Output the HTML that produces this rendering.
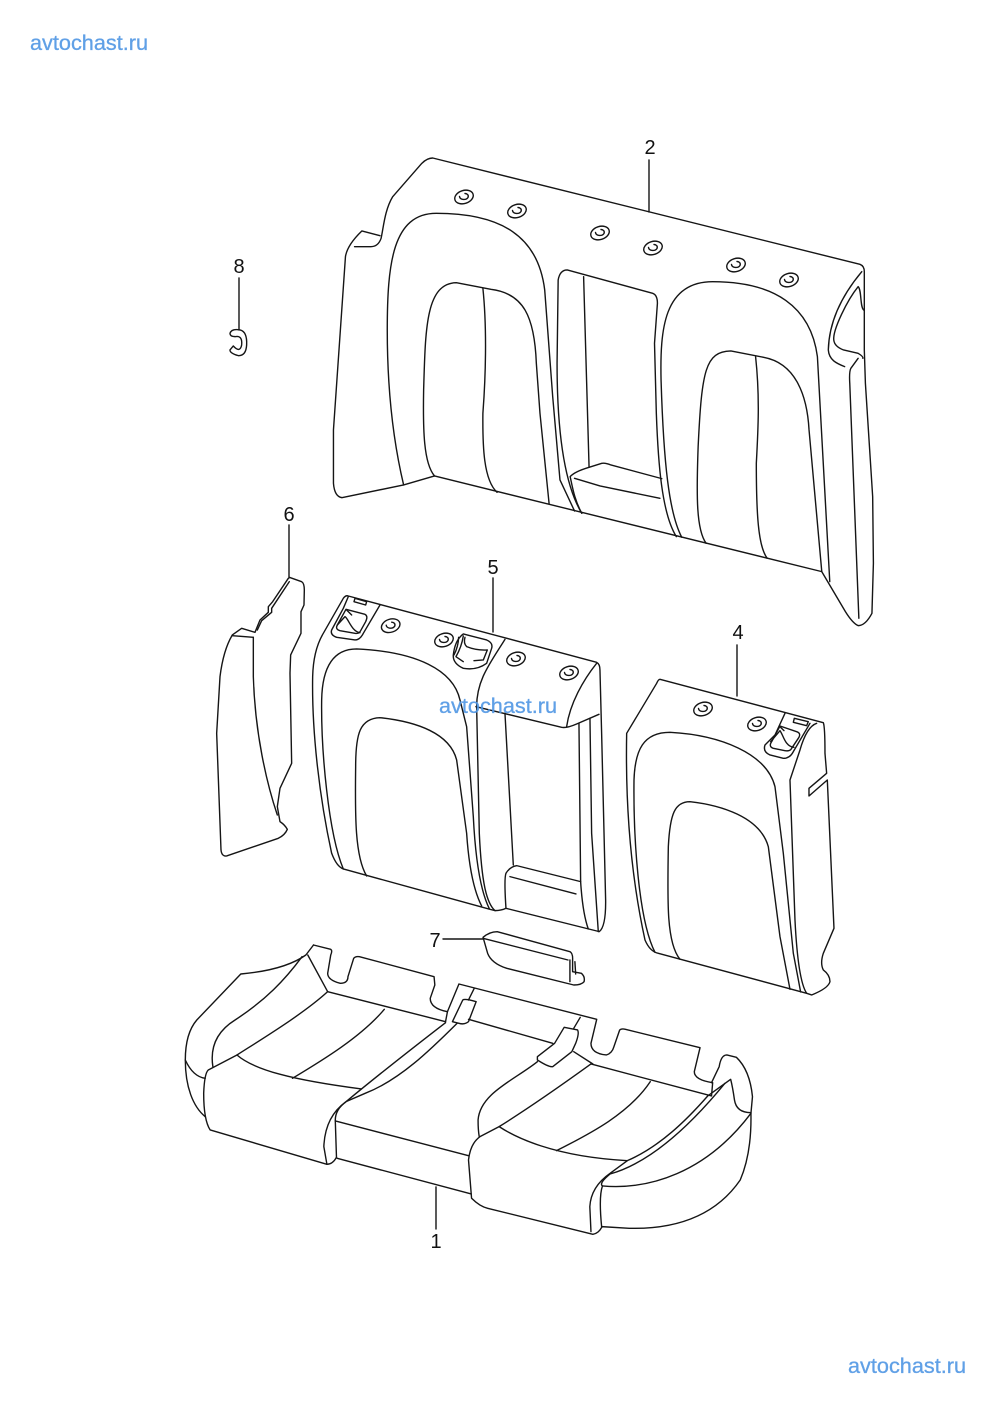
<!DOCTYPE html>
<html><head><meta charset="utf-8"><style>
html,body{margin:0;padding:0;background:#fff}
svg{display:block}
path,ellipse,line{fill:none;stroke:#151515;stroke-width:1.4;vector-effect:non-scaling-stroke;stroke-linecap:round;stroke-linejoin:round}
.n{font-family:"Liberation Sans",sans-serif;font-size:20px;fill:#111;text-anchor:middle}
.w{font-family:"Liberation Sans",sans-serif;font-size:21px;fill:#4f96e4;stroke:#4f96e4;stroke-width:.3;opacity:.9}
</style></head><body>
<svg width="996" height="1409" viewBox="0 0 996 1409" xmlns="http://www.w3.org/2000/svg">
<defs><g id="s"><ellipse cx="0" cy="0" rx="9.5" ry="6.5" transform="rotate(-18)"/><path d="M-4.5 -.5C-4 3 2 3.5 4 .5C5 -2 3 -3.5 1 -3.5"/></g></defs>

<!-- part 2 -->
<g transform="translate(320,130) scale(.3636,.3333)">
<path d="M95 350L140 350Q160 350 168 325C175 290 178 240 200 200L280 100Q295 84 310 84L1485 403Q1497 408 1497 425L1497 660L1500 760L1520 1100L1522 1300L1518 1450Q1500 1487 1480 1487Q1465 1480 1445 1445L1380 1325L315 1038L230 1065L60 1103Q40 1100 37 1060L37 900L70 380Q75 345 115 303L165 317"/>
<path d="M230 1065C205 950 185 800 185 600C185 400 200 250 320 250C500 250 600 320 618 480L640 800L660 1050L700 1143"/>
<path d="M315 1038C285 1000 283 900 285 780C290 600 290 460 375 458L470 478C560 490 590 560 595 700L605 850L630 1120"/>
<path d="M720 1150C670 1060 652 900 652 700L655 450Q660 420 680 420L915 490Q928 495 928 520L920 640L925 850C930 1000 940 1150 980 1220"/>
<path d="M995 1222C960 1150 945 1000 938 750C935 600 945 455 1080 455C1250 455 1350 530 1368 680L1402 1355"/>
<path d="M1062 1240C1035 1200 1035 1100 1040 950C1050 720 1060 665 1130 663L1220 682C1310 700 1340 800 1345 900L1380 1325"/>
<path d="M448 475C460 600 455 750 448 850C447 950 450 1050 487 1087"/>
<path d="M1198 680C1210 800 1205 900 1200 1000C1200 1150 1205 1250 1230 1285"/>
<path d="M725 440L740 1012"/>
<path d="M720 1150C700 1110 695 1075 688 1040Q700 1025 740 1012L775 1000Q785 998 800 1005L940 1046"/>
<path d="M700 1045L770 1068L935 1105"/>
<path d="M1490 425C1440 490 1400 570 1398 660C1400 690 1420 700 1443 710"/>
<path d="M1495 540C1485 530 1490 480 1480 470C1450 510 1410 600 1413 630Q1415 650 1440 660L1480 670Q1495 680 1493 685"/>
<path d="M1480 685L1460 715Q1455 725 1457 760L1482 1465"/>
</g>
<use href="#s" x="464" y="197"/><use href="#s" x="517" y="211"/><use href="#s" x="600" y="233"/><use href="#s" x="653" y="248"/><use href="#s" x="736" y="265"/><use href="#s" x="789" y="280"/>

<!-- part 5 and 6 -->
<g transform="translate(200,500) scale(.3333)">
<path d="M445 288L1190 487Q1200 492 1200 510L1205 700L1217 1200Q1218 1280 1198 1295L918 1225Q905 1232 885 1232L870 1228L430 1107Q410 1100 395 1060C360 900 335 700 338 530Q340 450 370 400L430 295Q437 285 445 288Z"/>
<path d="M430 1107C385 1000 363 750 365 600C367 500 400 447 470 447C650 455 760 510 780 600L800 680L820 950Q830 1150 868 1226"/>
<path d="M500 1128C465 1070 465 950 467 800C467 700 480 655 540 653C650 665 750 700 770 780L800 1000Q810 1150 845 1218"/>
<path d="M915 418C870 490 830 540 830 620L838 1000C845 1150 860 1210 885 1232"/>
<path d="M1190 490C1150 540 1110 610 1100 680"/>
<path d="M828 620L1085 682Q1100 685 1130 672L1197 643"/>
<path d="M915 640L940 1095"/><path d="M1137 670L1142 1145Q1148 1240 1165 1287"/>
<path d="M1170 655L1175 1000L1195 1295"/>
<path d="M1142 1145L950 1097Q930 1100 918 1120Q912 1135 918 1225"/>
<path d="M930 1130L1128 1182"/>
<path d="M540 315L490 400Q480 420 465 420L410 412Q390 405 395 390L430 325L445 290"/>
<path d="M438 328L495 343Q505 348 497 365L482 392Q478 402 465 400L420 392Q405 388 412 375Z"/>
<path d="M412 375L435 350C445 355 455 395 480 398"/><path d="M440 330L455 345"/>
<path d="M465 295L500 305L497 315L462 305Z"/>
<path d="M760 465Q765 420 790 402L860 420Q880 428 875 445L860 490Q830 512 790 505Q758 490 760 465Z"/>
<path d="M790 408Q785 440 768 470L790 485"/><path d="M776 412Q775 440 762 465"/>
<path d="M795 412Q790 430 800 440Q830 452 862 450L850 480L822 482"/>
<!-- 6 -->
<path d="M268 232L305 245Q313 250 313 270L312 315L303 335L303 400L272 465L270 520L275 790L240 865L232 920L240 965Q255 975 262 988Q255 1005 235 1015L80 1068Q65 1070 63 1050L50 700L60 530Q70 450 97 405L125 385L165 397L180 360L205 337L205 320L218 305L265 235"/>
<path d="M160 412L97 407"/><path d="M160 412L160 530C165 700 200 850 232 945"/>
<path d="M172 390L185 362L215 337L215 325L268 245"/>
</g>
<use href="#s" x="390.7" y="625.7"/><use href="#s" x="444" y="640"/><use href="#s" x="516" y="659"/><use href="#s" x="569" y="673"/>

<!-- part 4 -->
<g transform="translate(610,620) scale(.3333)">
<path d="M150 178L640 308Q645 320 645 400L650 460L597 505L597 528L652 480L672 925L640 1000Q630 1030 640 1050Q660 1065 660 1085Q655 1105 605 1125L590 1120L145 1000Q120 995 105 960C70 800 45 600 50 340L140 190Q145 178 150 178Z"/>
<path d="M135 997C85 900 70 650 72 480C75 390 100 337 180 337C330 345 470 400 495 500L520 700L550 1000L572 1116"/>
<path d="M210 1018C170 970 172 850 175 680C180 580 195 545 240 545C330 555 450 590 475 680L510 950L540 1108"/>
<path d="M620 310Q590 320 570 390L540 480L555 900C560 1000 570 1090 590 1120"/>
<path d="M525 280L495 345L465 375Q458 395 480 405L520 415Q540 415 550 395L600 310"/>
<path d="M510 318L560 335Q575 340 565 355L545 385Q540 395 525 392L490 385Q475 380 485 365Z"/>
<path d="M482 365L510 332C520 345 525 380 552 382"/><path d="M512 322L522 332"/>
<path d="M553 295L595 305L590 317L550 307Z"/>
</g>
<use href="#s" x="703" y="709"/><use href="#s" x="757" y="724"/>

<!-- part 1 and 7 -->
<g transform="translate(170,920) scale(.3827,.3333)">
<path d="M818 52Q835 35 855 35L1045 95Q1053 100 1052 120L1052 155L1075 160Q1085 170 1082 185Q1075 195 1055 195L880 145Q840 130 830 100Z"/>
<path d="M818 55L1040 120"/><path d="M1045 120L1045 185"/><path d="M1058 125L1060 162"/>
<path d="M375 75L420 88Q425 92 420 105L412 160Q412 180 445 190Q465 190 465 170L480 115Q485 108 495 110L690 170L692 195L680 235Q680 265 725 275L720 305"/>
<path d="M725 275L755 192L1115 298L1100 370Q1100 400 1140 405Q1155 400 1160 380L1175 330Q1180 325 1190 328L1385 383L1370 455Q1370 480 1418 488L1415 528L1100 432"/>
<path d="M795 205L780 240"/><path d="M1072 292L1055 325"/>
<path d="M375 75L355 105Q300 150 185 162L70 300Q40 340 40 420C40 500 60 560 92 590"/>
<path d="M345 110C300 180 250 240 170 300Q100 350 112 440"/>
<path d="M360 105L412 215"/>
<path d="M412 215C350 280 250 350 175 405L100 450Q90 460 88 520Q88 600 105 630L410 733Q425 733 435 712"/>
<path d="M412 215L720 305"/>
<path d="M40 420Q60 470 92 475"/>
<path d="M175 405C220 450 320 480 500 507"/>
<path d="M320 475C400 420 500 350 560 268"/>
<path d="M720 308C650 370 560 450 460 545Q405 590 402 680L410 733"/>
<path d="M750 310C680 390 600 480 510 520L460 545Q430 570 432 605L435 712"/>
<path d="M432 603L780 707"/><path d="M437 715L787 822"/>
<path d="M780 298L1000 370"/>
<path d="M765 240Q770 235 800 245L780 305Q770 315 755 310L738 305Z"/>
<path d="M1030 322L1065 330Q1070 340 1060 370L1050 395L1000 440Q990 442 960 420L960 410L1005 370Z"/>
<path d="M960 425C900 480 810 520 805 600Q805 630 808 650"/>
<path d="M1055 395L1105 432"/>
<path d="M1100 432C1030 490 930 570 860 620L810 650Q785 670 780 720L788 835Q810 860 830 865L1105 943Q1120 940 1128 922"/>
<path d="M860 620C900 650 1000 710 1195 722"/>
<path d="M1010 692C1100 640 1200 580 1255 485"/>
<path d="M1405 528C1350 600 1280 680 1195 722L1150 760Q1100 800 1097 860L1100 935"/>
<path d="M1450 490C1400 560 1280 720 1150 762Q1120 790 1130 798Q1120 830 1128 922"/>
<path d="M1415 488L1435 440Q1440 405 1455 405L1480 412Q1515 450 1522 530L1518 580Q1520 700 1490 780Q1400 930 1200 925L1128 920"/>
<path d="M1130 798C1250 810 1400 760 1518 580"/>
<path d="M1405 528L1465 478Q1470 500 1475 540Q1480 578 1518 578"/>
</g>

<!-- part 8 -->
<g transform="translate(0,20) scale(.3333)">
<path d="M690 940Q695 925 720 930Q742 935 740 975Q738 1008 715 1007Q690 1000 690 990L700 978Q720 1000 725 975Q728 945 705 950Q690 950 690 940Z"/>
</g>

<!-- leaders -->
<line x1="649" y1="160" x2="649" y2="212"/><line x1="239" y1="278" x2="239" y2="330"/>
<line x1="289" y1="525" x2="289" y2="578"/><line x1="493" y1="578" x2="493" y2="632"/>
<line x1="737" y1="645" x2="737" y2="696"/><line x1="443" y1="939" x2="483" y2="939"/>
<line x1="436" y1="1187" x2="436" y2="1229"/>

<text class="n" x="650" y="154">2</text><text class="n" x="239" y="273">8</text>
<text class="n" x="289" y="521">6</text><text class="n" x="493" y="574">5</text>
<text class="n" x="738" y="639">4</text><text class="n" x="435" y="947">7</text>
<text class="n" x="436" y="1248">1</text>

<text class="w" x="30" y="50" textLength="118" lengthAdjust="spacingAndGlyphs">avtochast.ru</text>
<text class="w" x="439" y="713" textLength="118" lengthAdjust="spacingAndGlyphs">avtochast.ru</text>
<text class="w" x="848" y="1373" textLength="118" lengthAdjust="spacingAndGlyphs">avtochast.ru</text>
</svg>
</body></html>
